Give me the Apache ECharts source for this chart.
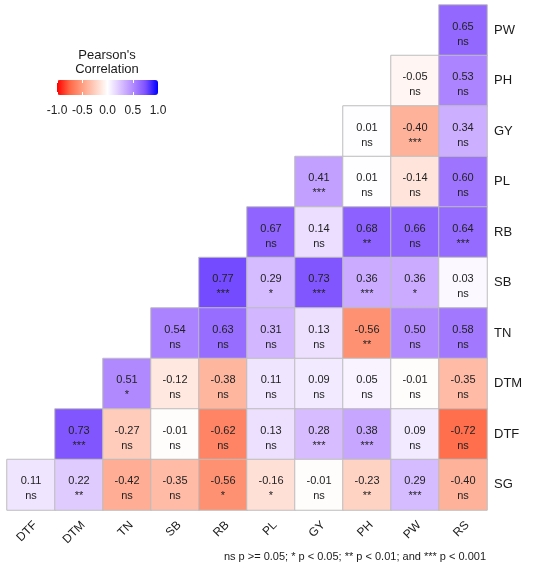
<!DOCTYPE html>
<html>
<head>
<meta charset="utf-8">
<script src="https://cdn.jsdelivr.net/npm/echarts@6/dist/echarts.min.js"></script>
<style>html,body{margin:0;padding:0;background:#fff;}#c{width:550px;height:567px;}</style>
</head>
<body>
<div id="c"></div>
<script>
// Column (x) and row (y, top to bottom) labels
const xLabels = ['DTF','DTM','TN','SB','RB','PL','GY','PH','PW','RS'];
const yLabels = ['PW','PH','GY','PL','RB','SB','TN','DTM','DTF','SG'];

// Correlation values per row (right-aligned: last value is column RS)
const r_PW  = [0.65];
const r_PH  = [-0.05, 0.53];
const r_GY  = [0.01, -0.40, 0.34];
const r_PL  = [0.41, 0.01, -0.14, 0.60];
const r_RB  = [0.67, 0.14, 0.68, 0.66, 0.64];
const r_SB  = [0.77, 0.29, 0.73, 0.36, 0.36, 0.03];
const r_TN  = [0.54, 0.63, 0.31, 0.13, -0.56, 0.50, 0.58];
const r_DTM = [0.51, -0.12, -0.38, 0.11, 0.09, 0.05, -0.01, -0.35];
const r_DTF = [0.73, -0.27, -0.01, -0.62, 0.13, 0.28, 0.38, 0.09, -0.72];
const r_SG  = [0.11, 0.22, -0.42, -0.35, -0.56, -0.16, -0.01, -0.23, 0.29, -0.40];

// Significance per row
const s_PW  = ['ns'];
const s_PH  = ['ns','ns'];
const s_GY  = ['ns','***','ns'];
const s_PL  = ['***','ns','ns','ns'];
const s_RB  = ['ns','ns','**','ns','***'];
const s_SB  = ['***','*','***','***','*','ns'];
const s_TN  = ['ns','ns','ns','ns','**','ns','ns'];
const s_DTM = ['*','ns','ns','ns','ns','ns','ns','ns'];
const s_DTF = ['***','ns','ns','ns','ns','***','***','ns','ns'];
const s_SG  = ['ns','**','ns','ns','*','*','ns','**','***','ns'];

// Legend tick values
const legendTicks = [-1.0, -0.5, 0.0, 0.5, 1.0];

const rowVals = [r_PW, r_PH, r_GY, r_PL, r_RB, r_SB, r_TN, r_DTM, r_DTF, r_SG];
const rowSig  = [s_PW, s_PH, s_GY, s_PL, s_RB, s_SB, s_TN, s_DTM, s_DTF, s_SG];

const data = [];
rowVals.forEach((vals, yi) => {
  const start = xLabels.length - vals.length;
  vals.forEach((v, k) => {
    data.push([start + k, yi, v, rowSig[yi][k]]);
  });
});

const FONT = 'Liberation Sans, Arial, sans-serif';
const chart = echarts.init(document.getElementById('c'));
chart.setOption({
  animation: false,
  backgroundColor: '#ffffff',
  textStyle: { fontFamily: FONT },
  grid: [
    { left: 7, right: 63, top: 5, bottom: 57 },
    { left: 57, width: 101, top: 80, height: 15 }
  ],
  xAxis: [
    {
      type: 'category', data: xLabels, gridIndex: 0,
      axisLine: { show: false }, axisTick: { show: false }, splitLine: { show: false },
      axisLabel: { rotate: 45, margin: 9, verticalAlign: 'top', fontSize: 12, color: '#1a1a1a', fontFamily: FONT }
    },
    {
      type: 'value', gridIndex: 1, min: -1, max: 1, interval: 0.5, position: 'bottom', z: 10,
      axisLine: { show: false }, splitLine: { show: false },
      axisTick: { show: true, inside: true, length: 3, lineStyle: { color: '#ffffff', width: 1 } },
      axisLabel: { margin: 10, fontSize: 12, color: '#222', fontFamily: FONT,
        formatter: v => (legendTicks.indexOf(v) >= 0 ? v.toFixed(1) : '') }
    },
    {
      type: 'value', gridIndex: 1, min: -1, max: 1, interval: 0.5, position: 'top', z: 10,
      axisLine: { show: false }, splitLine: { show: false }, axisLabel: { show: false },
      axisTick: { show: true, inside: true, length: 3, lineStyle: { color: '#ffffff', width: 1 } }
    }
  ],
  yAxis: [
    {
      type: 'category', data: yLabels, inverse: true, position: 'right', gridIndex: 0,
      axisLine: { show: false }, axisTick: { show: false }, splitLine: { show: false },
      axisLabel: { margin: 7, fontSize: 13, color: '#1a1a1a', fontFamily: FONT, padding: [2, 0, 0, 0] }
    },
    { type: 'value', gridIndex: 1, show: false, min: 0, max: 1 }
  ],
  visualMap: {
    type: 'continuous',
    min: -1, max: 1,
    dimension: 2,
    seriesIndex: 0,
    orient: 'horizontal',
    left: 57, top: 80,
    itemWidth: 15, itemHeight: 101,
    padding: 0,
    calculable: false,
    text: null,
    showLabel: false,
    inRange: {
      color: ['#ff0000', '#ff6846', '#ff9e81', '#ffcfbf', '#ffffff', '#dcc4ff', '#b38bff', '#7e51ff', '#0000ff']
    }
  },
  graphic: [
    {
      type: 'text', x: 107, y: 48, z: 100,
      style: { text: "Pearson's\nCorrelation", textAlign: 'center', align: 'center', verticalAlign: 'top', textVerticalAlign: 'top',
        fontSize: 13, lineHeight: 14, fill: '#1a1a1a', fontFamily: FONT }
    }
  ],
  title: {
    text: 'ns p >= 0.05; * p < 0.05; ** p < 0.01; and *** p < 0.001',
    right: 64, top: 551, padding: 0,
    textStyle: { fontSize: 11, fontWeight: 'normal', color: '#1a1a1a', fontFamily: FONT }
  },
  series: [
    {
      type: 'heatmap',
      xAxisIndex: 0, yAxisIndex: 0,
      data: data,
      itemStyle: { borderColor: '#bdbdbd', borderWidth: 1 },
      label: {
        show: true,
        fontSize: 11,
        lineHeight: 15,
        color: '#222',
        fontFamily: FONT,
        offset: [0, 4],
        formatter: p => p.data[2].toFixed(2) + '\n' + p.data[3]
      },
      emphasis: { disabled: true }
    }
  ]
});
</script>
</body>
</html>
